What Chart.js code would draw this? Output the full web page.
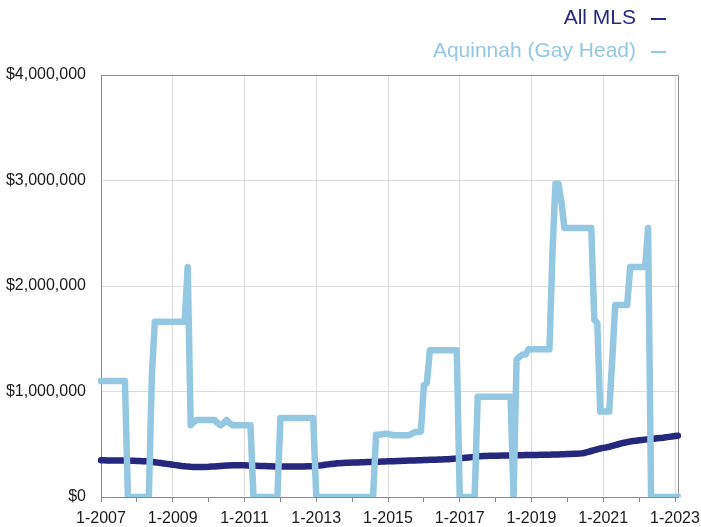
<!DOCTYPE html>
<html>
<head>
<meta charset="utf-8">
<script src="https://cdn.jsdelivr.net/npm/chart.js@4/dist/chart.umd.min.js"></script>
<style>
  html, body { margin: 0; padding: 0; background: #ffffff; }
  #wrap { width: 701px; height: 527px; position: relative; }
</style>
</head>
<body>
<div id="wrap"><canvas id="c" width="701" height="527"></canvas></div>
<script>
// ---- data (monthly, Jan 2007 .. Feb 2023) ----
const startYear = 2007;
const monthCount = 194;
const tickLabels = ['1-2007','1-2009','1-2011','1-2013','1-2015','1-2017','1-2019','1-2021','1-2023'];
const yTicks = [0, 1000000, 2000000, 3000000, 4000000];
const seriesNames = ['All MLS', 'Aquinnah (Gay Head)'];

const allMls = [
  348000,348000,347000,347000,346000,346000,346000,345000,345000,344000,344000,343000,
  342000,341000,340000,338000,336000,333000,330000,326000,322000,318000,314000,310000,
  306000,302000,298000,294000,291000,288000,286000,285000,284000,284000,284000,285000,
  286000,288000,290000,292000,294000,296000,298000,299000,300000,300000,300000,300000,
  300000,299000,298000,297000,296000,295000,294000,293000,292000,291000,290000,290000,
  289000,289000,288000,288000,288000,288000,289000,289000,290000,291000,292000,293000,
  295000,298000,301000,305000,309000,313000,316000,319000,321000,323000,324000,325000,
  326000,327000,328000,329000,330000,331000,332000,333000,334000,335000,336000,337000,
  338000,339000,340000,341000,342000,343000,344000,345000,346000,347000,348000,349000,
  350000,351000,352000,353000,354000,355000,356000,357000,358000,360000,362000,364000,
  366000,369000,372000,375000,378000,381000,384000,386000,388000,389000,390000,391000,
  392000,392000,393000,393000,394000,394000,395000,395000,396000,396000,397000,397000,
  398000,399000,399000,400000,400000,401000,401000,402000,403000,404000,405000,406000,
  407000,408000,409000,410000,412000,415000,420000,428000,436000,444000,452000,460000,
  466000,470000,476000,484000,492000,500000,508000,514000,520000,526000,530000,534000,
  538000,541000,544000,547000,550000,553000,556000,559000,562000,566000,570000,574000,
  578000,581000
];

const aquinnah = [
  1100000,1100000,1100000,1100000,1100000,1100000,1100000,1100000,1100000,0,0,0,
  0,0,0,0,0,1140000,1660000,1660000,1660000,1660000,1660000,1660000,
  1660000,1660000,1660000,1660000,1660000,2180000,680000,710000,730000,730000,730000,730000,
  730000,730000,730000,700000,680000,700000,730000,700000,680000,680000,680000,680000,
  680000,680000,680000,0,0,0,0,0,0,0,0,0,
  750000,750000,750000,750000,750000,750000,750000,750000,750000,750000,750000,750000,
  0,0,0,0,0,0,0,0,0,0,0,0,
  0,0,0,0,0,0,0,0,590000,590000,595000,600000,
  600000,590000,585000,585000,585000,585000,585000,585000,600000,615000,615000,620000,
  1060000,1080000,1390000,1390000,1390000,1390000,1390000,1390000,1390000,1390000,1390000,1390000,
  0,0,0,0,0,0,950000,950000,950000,950000,950000,950000,
  950000,950000,950000,950000,950000,950000,0,1300000,1330000,1350000,1350000,1400000,
  1400000,1400000,1400000,1400000,1400000,1400000,1400000,2300000,2970000,2970000,2800000,2550000,
  2550000,2550000,2550000,2550000,2550000,2550000,2550000,2550000,2550000,1680000,1650000,810000,
  810000,810000,810000,1300000,1820000,1820000,1820000,1820000,1820000,2180000,2180000,2180000,
  2180000,2180000,2180000,2550000,0,0,0,0,0,0,0,0,
  0,0
];

const colMls = '#25287c';
const colAq = '#93c7e2';

const categories = [];
for (let i = 0; i < monthCount; i++) {
  categories.push(((i % 12) + 1) + '-' + (startYear + Math.floor(i / 12)));
}

const FONT = '"Liberation Sans", Arial, Helvetica, sans-serif';

const frame = {
  id: 'frame',
  beforeDatasetsDraw(chart) {
    const a = chart.chartArea, ctx = chart.ctx;
    ctx.save();
    ctx.strokeStyle = '#8c8c8c';
    ctx.lineWidth = 1;
    ctx.beginPath();
    ctx.moveTo(a.left, a.top + 0.5);
    ctx.lineTo(a.right + 0.5, a.top + 0.5);
    ctx.lineTo(a.right + 0.5, a.bottom);
    ctx.stroke();
    ctx.restore();
  },
  afterDraw(chart) {
    const ctx = chart.ctx;
    const ds = chart.data.datasets;
    const ys = [18, 51];
    ctx.save();
    ctx.font = '21px ' + FONT;
    ctx.textAlign = 'right';
    ctx.textBaseline = 'middle';
    ds.forEach((d, i) => {
      ctx.fillStyle = d.borderColor;
      ctx.fillText(d.label, 636, ys[i]);
      ctx.strokeStyle = d.borderColor;
      ctx.lineWidth = 2;
      ctx.beginPath();
      ctx.moveTo(651, ys[i] + 1);
      ctx.lineTo(666, ys[i] + 1);
      ctx.stroke();
    });
    ctx.restore();
  }
};

new Chart(document.getElementById('c'), {
  type: 'line',
  data: {
    labels: categories,
    datasets: [
      { label: seriesNames[0], data: allMls, borderColor: colMls, backgroundColor: colMls,
        borderWidth: 6.5, pointRadius: 0, tension: 0, order: 2,
        borderJoinStyle: 'round', borderCapStyle: 'round' },
      { label: seriesNames[1], data: aquinnah, borderColor: colAq, backgroundColor: colAq,
        borderWidth: 6.5, pointRadius: 0, tension: 0, order: 1,
        borderJoinStyle: 'round', borderCapStyle: 'round' }
    ]
  },
  options: {
    responsive: false,
    animation: false,
    layout: { padding: { top: 75, right: 23, left: 0, bottom: 0 } },
    plugins: { legend: { display: false }, tooltip: { enabled: false } },
    scales: {
      x: {
        type: 'category',
        offset: false,
        afterFit(s) { s.height = 30; },
        ticks: {
          autoSkip: false, maxRotation: 0, minRotation: 0,
          padding: 7,
          color: '#1a1a1a',
          font: { family: FONT, size: 16 },
          callback(v, i) {
            const lab = categories[i];
            return tickLabels.includes(lab) ? lab : '';
          }
        },
        grid: {
          drawOnChartArea: true,
          tickLength: 5,
          color(ctx) { return (ctx.index > 0 && ctx.index % 24 === 0) ? '#dcdcdc' : 'rgba(0,0,0,0)'; },
          tickColor(ctx) { return (ctx.index % 12 === 0) ? '#8c8c8c' : 'rgba(0,0,0,0)'; }
        },
        border: { color: '#8c8c8c', width: 1 }
      },
      y: {
        min: 0, max: 4000000,
        afterFit(s) { s.width = 101; },
        afterBuildTicks(s) { s.ticks = yTicks.map(v => ({ value: v })); },
        ticks: {
          padding: 15,
          color: '#1a1a1a',
          font: { family: FONT, size: 16 },
          callback(v) { return '$' + Number(v).toLocaleString('en-US'); }
        },
        grid: { drawTicks: false, color: '#dcdcdc' },
        border: { color: '#8c8c8c', width: 1 }
      }
    }
  },
  plugins: [frame]
});
</script>
</body>
</html>
